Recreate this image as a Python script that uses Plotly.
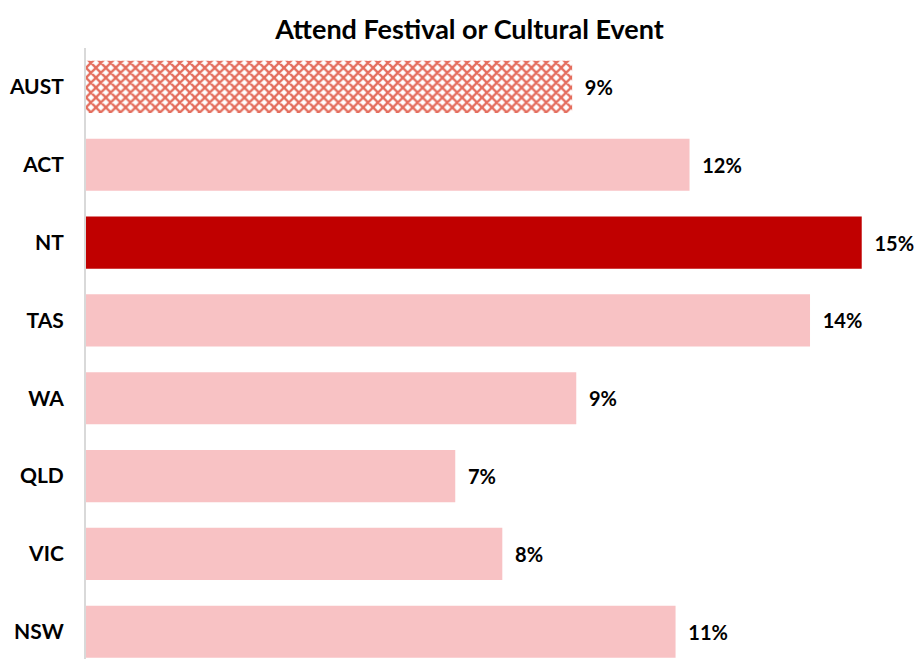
import plotly.graph_objects as go

# Share of people who attended a festival or cultural event, by state/territory
regions = ["NSW", "VIC", "QLD", "WA", "TAS", "NT", "ACT", "AUST"]
share = [0.114, 0.0805, 0.0714, 0.0948, 0.140, 0.150, 0.1167, 0.094]
title_text = "Attend Festival or Cultural Event"

PINK = "#F8C2C4"
DARK_RED = "#C00000"
CHECK_RED = "#E46C5C"

colors = []
patterns = []
for r in regions:
    if r == "NT":
        colors.append(DARK_RED)
        patterns.append("")
    elif r == "AUST":
        colors.append(CHECK_RED)
        patterns.append("x")
    else:
        colors.append(PINK)
        patterns.append("")

fig = go.Figure(
    go.Bar(
        x=share,
        y=regions,
        orientation="h",
        marker=dict(
            color=colors,
            line=dict(width=0),
            pattern=dict(shape=patterns, fgcolor=CHECK_RED, bgcolor="white",
                         fgopacity=1, size=7, solidity=0.55, fillmode="replace"),
        ),
        texttemplate="  %{x:.0%}",
        textposition="outside",
        textfont=dict(family="Lato", size=20, color="black", weight="bold"),
        constraintext="none",
        cliponaxis=False,
        hoverinfo="skip",
    )
)

fig.update_layout(
    width=915,
    height=659,
    margin=dict(l=86, r=0, t=48, b=0),
    paper_bgcolor="white",
    plot_bgcolor="white",
    bargap=0.33,
    showlegend=False,
    title=dict(
        text=title_text,
        x=469.5 / 915, xanchor="center", xref="container",
        y=1 - 30 / 659, yanchor="middle", yref="container",
        font=dict(family="Lato", size=27, color="black", weight="bold"),
    ),
    xaxis=dict(
        range=[0, 0.1603],
        visible=False,
        fixedrange=True,
    ),
    yaxis=dict(
        categoryorder="array",
        categoryarray=regions,
        range=[-0.35, 7.5],
        showline=True,
        linecolor="#D9D9D9",
        linewidth=2,
        showgrid=False,
        zeroline=False,
        ticks="",
        ticklabelstandoff=16,
        tickfont=dict(family="Lato", size=21, color="black", weight="bold"),
        fixedrange=True,
    ),
)

fig.write_html("out.html")
